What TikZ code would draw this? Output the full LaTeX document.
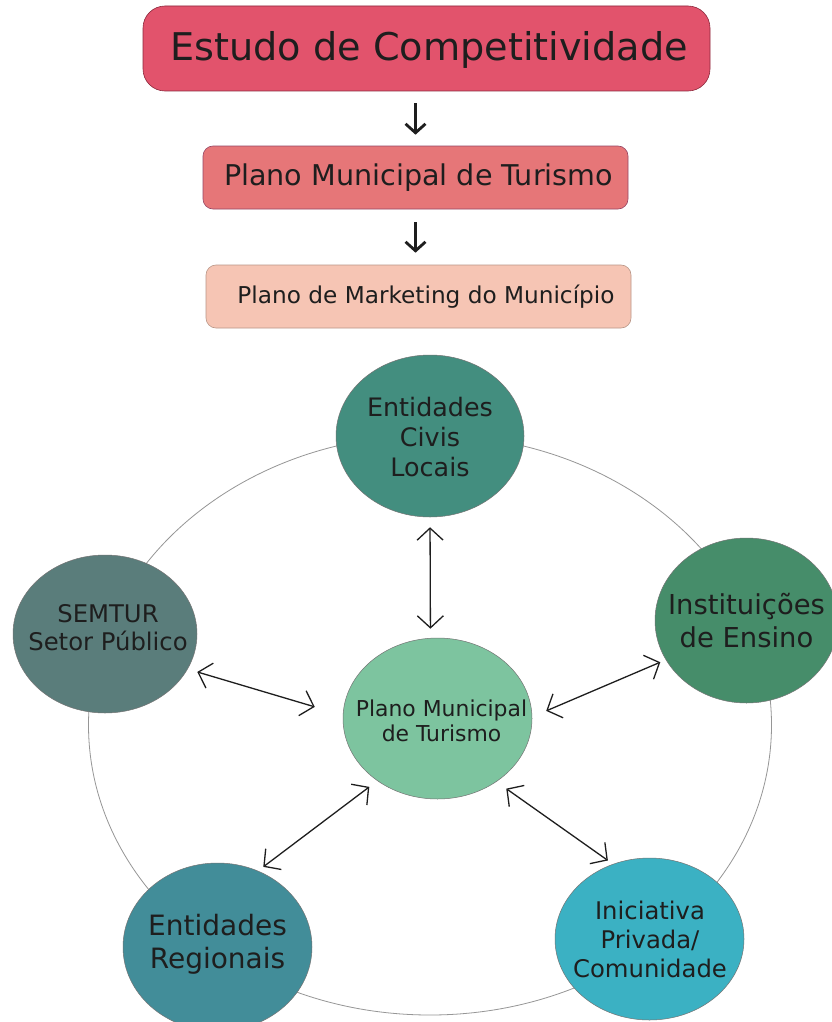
\documentclass[tikz,border=0pt]{standalone}
\usepackage{fontspec}
\setmainfont{DejaVu Sans}
\usetikzlibrary{shapes.geometric,arrows.meta}
\definecolor{cBoxA}{RGB}{226,83,108}
\definecolor{cBoxAd}{RGB}{140,40,60}
\definecolor{cBoxB}{RGB}{230,118,120}
\definecolor{cBoxBd}{RGB}{150,70,100}
\definecolor{cBoxC}{RGB}{246,197,180}
\definecolor{cBoxCd}{RGB}{185,150,135}
\definecolor{cCivis}{RGB}{67,142,127}
\definecolor{cSemtur}{RGB}{90,125,123}
\definecolor{cInst}{RGB}{70,141,106}
\definecolor{cPlano}{RGB}{125,196,159}
\definecolor{cReg}{RGB}{66,141,153}
\definecolor{cIni}{RGB}{59,177,195}
\definecolor{cText}{RGB}{30,30,30}
\definecolor{cRing}{RGB}{150,150,150}
\begin{document}
\begin{tikzpicture}[x=1pt,y=-1pt,
  stagebox/.style={rectangle, line width=0.6pt, inner sep=0pt},
  stagetext/.style={inner sep=0pt, text=cText},
  bubble/.style={ellipse, draw=black!55, line width=0.5pt, inner sep=0pt},
  bubtext/.style={inner sep=0pt, align=center, text=cText},
  ringstyle/.style={ellipse, draw=cRing, line width=0.8pt, inner sep=0pt},
  downarr/.style={draw=cText, line width=2.8pt, -{Straight Barb[length=9pt,width=20pt]}},
  biarrow/.style={draw=cText, line width=1.3pt, {Straight Barb[length=12pt,width=26pt]}-{Straight Barb[length=12pt,width=26pt]}}
]
\useasboundingbox (0,0) rectangle (832,1022);
\fill[white] (0,0) rectangle (832,1022);

% top chain
\node[stagebox, fill=cBoxA, draw=cBoxAd, rounded corners=22pt, minimum width=567pt, minimum height=85pt] (estudo) at (426.5,48.5) {};
\node[stagetext, font=\fontsize{38.2}{44}\selectfont] (estudoT) at (429,50) {Estudo de Competitividade};
\node[stagebox, fill=cBoxB, draw=cBoxBd, rounded corners=10pt, minimum width=425pt, minimum height=63pt] (mpt) at (415.5,177.5) {};
\node[stagetext, font=\fontsize{28.6}{33}\selectfont] (mptT) at (418.5,178) {Plano Municipal de Turismo};
\node[stagebox, fill=cBoxC, draw=cBoxCd, rounded corners=10pt, minimum width=425pt, minimum height=63pt] (mkt) at (418.5,296.5) {};
\node[stagetext, font=\fontsize{23.2}{27}\selectfont] (mktT) at (426,297) {Plano de Marketing do Município};

\draw[downarr, shorten <=12pt, shorten >=11pt] (estudo.south -| mpt.north) -- (mpt.north);
\draw[downarr, shorten <=13pt, shorten >=12pt] (mpt.south) -- (mkt.north -| mpt.south);

% ring
\node[ringstyle, minimum width=683pt, minimum height=580pt] (ring) at (430,725) {};

% bubbles
\node[bubble, fill=cCivis, minimum width=188pt, minimum height=162pt] (civis) at (430,436) {};
\node[bubtext, font=\fontsize{25.4}{30}\selectfont] (civisT) at (430,437.5) {Entidades\\Civis\\Locais};

\node[bubble, fill=cSemtur, minimum width=184pt, minimum height=158pt] (semtur) at (105,634) {};
\node[bubtext, font=\fontsize{24.3}{28}\selectfont] (semturT) at (108,628) {SEMTUR\\Setor Público};

\node[bubble, fill=cInst, minimum width=183pt, minimum height=165pt] (inst) at (746.5,620.5) {};
\node[bubtext, font=\fontsize{27.4}{33}\selectfont] (instT) at (746.5,621) {Instituições\\de Ensino};

\node[bubble, fill=cPlano, minimum width=189pt, minimum height=161pt] (plano) at (437.5,718.5) {};
\node[bubtext, font=\fontsize{21.9}{25}\selectfont] (planoT) at (441.5,721) {Plano Municipal\\de Turismo};

\node[bubble, fill=cReg, minimum width=189pt, minimum height=168pt] (reg) at (217.5,947) {};
\node[bubtext, font=\fontsize{28}{33}\selectfont] (regT) at (217.5,944) {Entidades\\Regionais};

\node[bubble, fill=cIni, minimum width=189pt, minimum height=162pt] (ini) at (649.5,939) {};
\node[bubtext, font=\fontsize{24.3}{29}\selectfont] (iniT) at (650,939) {Iniciativa\\Privada/\\Comunidade};

% connectors
\draw[biarrow, shorten <=10pt, shorten >=9.3pt] (civis.south) -- (plano.95.3);
\draw[biarrow, shorten <=10pt, shorten >=29.3pt] (semtur.-23.1) -- (plano.178.8);
\draw[biarrow, shorten <=15.2pt, shorten >=6pt] (plano.1.7) -- (inst.206.7);
\draw[biarrow, shorten <=10pt, shorten >=6.6pt] (plano.226.4) -- (reg.62.1);
\draw[biarrow, shorten <=12pt, shorten >=6.2pt] (plano.313.8) -- (ini.116.8);
\end{tikzpicture}
\end{document}
